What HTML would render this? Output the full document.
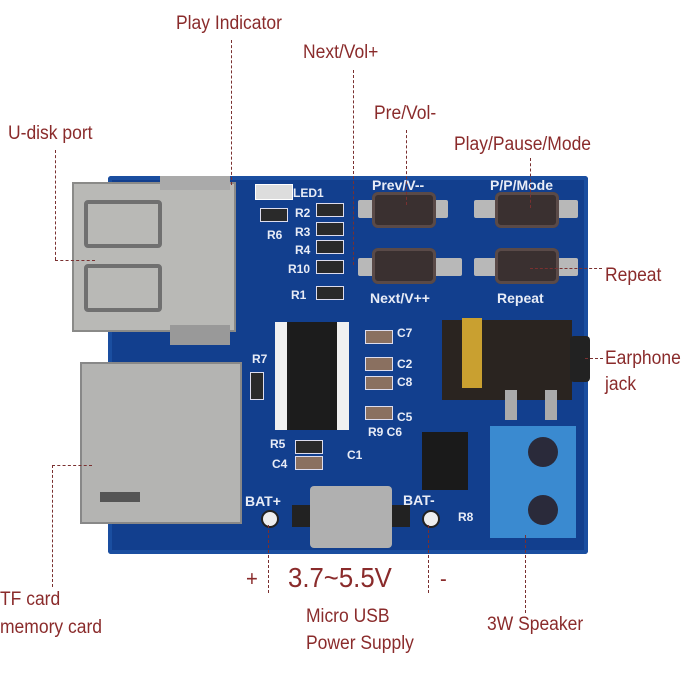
<!DOCTYPE html>
<html><head><style>
body{margin:0;width:700px;height:700px;background:#fff;position:relative;overflow:hidden;font-family:"Liberation Sans",sans-serif}
.a{position:absolute}
.t{position:absolute;color:#8a2b2b;font-size:19px;white-space:nowrap;transform:scaleX(0.92);transform-origin:left top}
.v{position:absolute;border-left:1px dashed #7a3030;width:0}
.h{position:absolute;border-top:1px dashed #7a3030;height:0}
.s{position:absolute;color:#e8ecf6;font-size:12px;font-weight:bold;white-space:nowrap}
.btn{position:absolute;width:64px;height:36px;background:#3a3030;border-radius:6px;box-shadow:inset 0 0 0 3px #5a4a48}
.pad{position:absolute;background:#b8b8b8;border-radius:2px}
.r{position:absolute;width:26px;height:12px;border:1px solid #dde;background:#2a2a2a}
</style></head><body>
<!-- board -->
<div class="a" style="left:108px;top:176px;width:480px;height:378px;background:#123f8e;border-radius:3px;box-shadow:inset 0 0 0 4px #1a4ea0"></div>
<!-- USB port -->
<div class="a" style="left:72px;top:182px;width:160px;height:146px;background:#b9b9b6;border:2px solid #8a8a88"></div>
<div class="a" style="left:84px;top:200px;width:70px;height:40px;border:4px solid #707070;border-radius:4px"></div>
<div class="a" style="left:84px;top:264px;width:70px;height:40px;border:4px solid #707070;border-radius:4px"></div>
<div class="a" style="left:160px;top:176px;width:70px;height:14px;background:#aaa"></div>
<div class="a" style="left:170px;top:325px;width:60px;height:20px;background:#999"></div>
<!-- SD card -->
<div class="a" style="left:80px;top:362px;width:158px;height:158px;background:#b4b4b2;border:2px solid #888"></div>
<div class="a" style="left:100px;top:492px;width:40px;height:10px;background:#555"></div>
<!-- LED & resistors -->
<div class="a" style="left:255px;top:184px;width:36px;height:14px;background:#ddd;border:1px solid #fff"></div>
<div class="r" style="left:260px;top:208px"></div>
<div class="r" style="left:316px;top:203px"></div>
<div class="r" style="left:316px;top:222px"></div>
<div class="r" style="left:316px;top:240px"></div>
<div class="r" style="left:316px;top:260px"></div>
<div class="r" style="left:316px;top:286px"></div>
<div class="s" style="left:293px;top:186px">LED1</div>
<div class="s" style="left:267px;top:228px">R6</div>
<div class="s" style="left:295px;top:206px">R2</div>
<div class="s" style="left:295px;top:225px">R3</div>
<div class="s" style="left:295px;top:243px">R4</div>
<div class="s" style="left:288px;top:262px">R10</div>
<div class="s" style="left:291px;top:288px">R1</div>
<!-- buttons -->
<div class="pad" style="left:358px;top:200px;width:90px;height:18px"></div>
<div class="btn" style="left:372px;top:192px"></div>
<div class="pad" style="left:474px;top:200px;width:104px;height:18px"></div>
<div class="btn" style="left:495px;top:192px"></div>
<div class="pad" style="left:358px;top:258px;width:104px;height:18px"></div>
<div class="btn" style="left:372px;top:248px"></div>
<div class="pad" style="left:474px;top:258px;width:104px;height:18px"></div>
<div class="btn" style="left:495px;top:248px"></div>
<div class="s" style="left:372px;top:177px;font-size:14px">Prev/V--</div>
<div class="s" style="left:490px;top:177px;font-size:14px">P/P/Mode</div>
<div class="s" style="left:370px;top:290px;font-size:14px">Next/V++</div>
<div class="s" style="left:497px;top:290px;font-size:14px">Repeat</div>
<!-- IC -->
<div class="a" style="left:275px;top:322px;width:74px;height:108px;background:#f0f0f0"></div>
<div class="a" style="left:287px;top:322px;width:50px;height:108px;background:#1c1c1c"></div>
<!-- caps -->
<div class="r" style="left:365px;top:330px;background:#8a7060"></div>
<div class="r" style="left:365px;top:357px;background:#8a7060"></div>
<div class="r" style="left:365px;top:376px;background:#8a7060"></div>
<div class="r" style="left:365px;top:406px;background:#8a7060"></div>
<div class="s" style="left:397px;top:326px">C7</div>
<div class="s" style="left:397px;top:357px">C2</div>
<div class="s" style="left:397px;top:375px">C8</div>
<div class="s" style="left:397px;top:410px">C5</div>
<div class="s" style="left:252px;top:352px">R7</div>
<div class="r" style="left:250px;top:372px;width:12px;height:26px"></div>
<div class="s" style="left:270px;top:437px">R5</div>
<div class="s" style="left:272px;top:457px">C4</div>
<div class="s" style="left:368px;top:425px">R9 C6</div>
<div class="s" style="left:347px;top:448px">C1</div>
<div class="r" style="left:295px;top:440px"></div>
<div class="r" style="left:295px;top:456px;background:#8a7060"></div>
<!-- amp IC -->
<div class="a" style="left:422px;top:432px;width:46px;height:58px;background:#1a1a1a"></div>
<!-- jack -->
<div class="a" style="left:442px;top:320px;width:130px;height:80px;background:#2a2420"></div>
<div class="a" style="left:462px;top:318px;width:20px;height:70px;background:#c9a030"></div>
<div class="a" style="left:570px;top:336px;width:20px;height:46px;background:#222;border-radius:4px"></div>
<div class="a" style="left:505px;top:390px;width:12px;height:30px;background:#aaa"></div>
<div class="a" style="left:545px;top:390px;width:12px;height:30px;background:#aaa"></div>
<!-- terminal -->
<div class="a" style="left:490px;top:426px;width:86px;height:112px;background:#3a8ad0"></div>
<div class="a" style="left:528px;top:437px;width:30px;height:30px;border-radius:50%;background:#2a2a3a"></div>
<div class="a" style="left:528px;top:495px;width:30px;height:30px;border-radius:50%;background:#2a2a3a"></div>
<!-- micro usb -->
<div class="a" style="left:310px;top:486px;width:82px;height:62px;background:#b0b0b0;border-radius:4px"></div>
<div class="a" style="left:292px;top:505px;width:18px;height:22px;background:#222"></div>
<div class="a" style="left:392px;top:505px;width:18px;height:22px;background:#222"></div>
<div class="s" style="left:245px;top:493px;font-size:14px">BAT+</div>
<div class="s" style="left:403px;top:492px;font-size:14px">BAT-</div>
<div class="s" style="left:458px;top:510px">R8</div>
<div class="a" style="left:261px;top:510px;width:14px;height:14px;border-radius:50%;background:#eee;border:2px solid #222"></div>
<div class="a" style="left:422px;top:510px;width:14px;height:14px;border-radius:50%;background:#eee;border:2px solid #222"></div>
<!-- labels -->
<div class="t" style="left:176px;top:13px">Play Indicator</div>
<div class="t" style="left:303px;top:42px">Next/Vol+</div>
<div class="t" style="left:374px;top:103px">Pre/Vol-</div>
<div class="t" style="left:8px;top:123px">U-disk port</div>
<div class="t" style="left:454px;top:134px">Play/Pause/Mode</div>
<div class="t" style="left:605px;top:265px">Repeat</div>
<div class="t" style="left:605px;top:348px">Earphone</div>
<div class="t" style="left:605px;top:374px">jack</div>
<div class="t" style="left:0px;top:589px">TF card</div>
<div class="t" style="left:0px;top:617px">memory card</div>
<div class="t" style="left:306px;top:606px">Micro USB</div>
<div class="t" style="left:306px;top:633px">Power Supply</div>
<div class="t" style="left:487px;top:614px">3W Speaker</div>
<div class="t" style="left:246px;top:566px;font-size:22px">+</div>
<div class="t" style="left:288px;top:562px;font-size:28px">3.7~5.5V</div>
<div class="t" style="left:440px;top:566px;font-size:22px">-</div>
<!-- leaders -->
<div class="v" style="left:231px;top:40px;height:145px"></div>
<div class="v" style="left:353px;top:70px;height:195px"></div>
<div class="v" style="left:406px;top:130px;height:75px"></div>
<div class="v" style="left:530px;top:158px;height:50px"></div>
<div class="v" style="left:55px;top:150px;height:110px"></div>
<div class="h" style="left:55px;top:260px;width:40px"></div>
<div class="h" style="left:530px;top:268px;width:72px"></div>
<div class="h" style="left:585px;top:358px;width:18px"></div>
<div class="v" style="left:52px;top:465px;height:122px"></div>
<div class="h" style="left:52px;top:465px;width:40px"></div>
<div class="v" style="left:268px;top:525px;height:68px"></div>
<div class="v" style="left:428px;top:525px;height:68px"></div>
<div class="v" style="left:525px;top:535px;height:78px"></div>
</body></html>
